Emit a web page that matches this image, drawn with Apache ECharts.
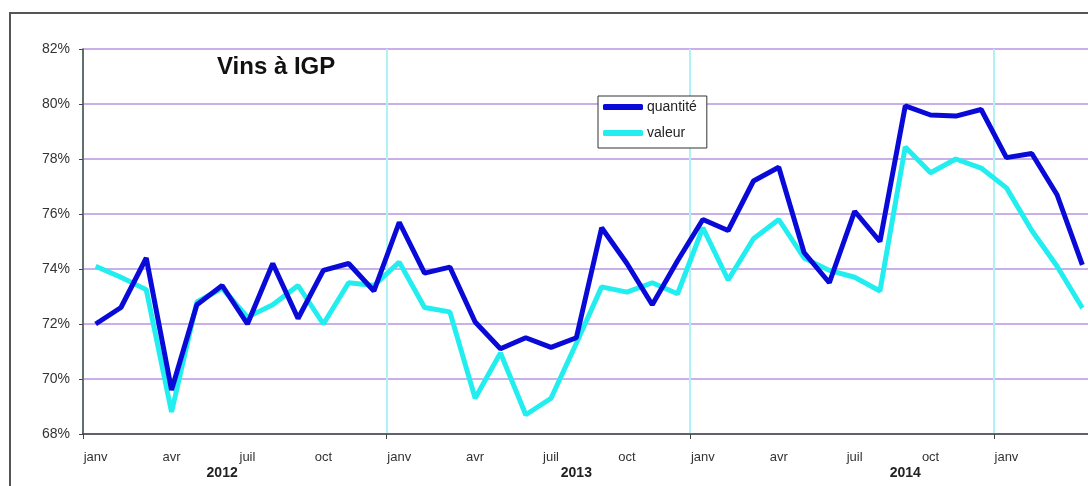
<!DOCTYPE html>
<html>
<head>
<meta charset="utf-8">
<script src="https://cdn.jsdelivr.net/npm/echarts@6/dist/echarts.min.js"></script>
<style>
html,body{margin:0;padding:0;background:#fff;}
#c{width:1088px;height:486px;}
</style>
</head>
<body>
<div id="c"></div>
<script>
// Months Jan 2012 .. Apr 2015
const monthNames = ['janv','févr','mars','avr','mai','juin','juil','août','sept','oct','nov','déc'];
const categories = [];
for (let y = 0; y < 4; y++) for (let m = 0; m < 12; m++) if (categories.length < 40) categories.push(monthNames[m]);

const yearLabels = { 5: '2012', 19: '2013', 32: '2014' };

const quantite = [
  72.0, 72.6, 74.4, 69.6, 72.7, 73.4, 72.0, 74.2, 72.2, 73.95, 74.2, 73.2,
  75.7, 73.85, 74.07, 72.07, 71.1, 71.5, 71.15, 71.5, 75.5, 74.2, 72.7, 74.3,
  75.8, 75.4, 77.2, 77.7, 74.6, 73.5, 76.1, 75.0, 79.93, 79.6, 79.56, 79.8,
  78.05, 78.2, 76.7, 74.15
];
const valeur = [
  74.1, 73.7, 73.25, 68.8, 72.8, 73.3, 72.25, 72.7, 73.4, 72.0, 73.5, 73.4,
  74.25, 72.6, 72.44, 69.3, 70.95, 68.7, 69.3, 71.3, 73.35, 73.16, 73.5, 73.1,
  75.5, 73.6, 75.1, 75.8, 74.4, 73.95, 73.7, 73.2, 78.44, 77.5, 78.0, 77.67,
  76.95, 75.4, 74.1, 72.58
];

const yTicks = { min: 68, max: 82, step: 2 };

const chart = echarts.init(document.getElementById('c'), null, { renderer: 'canvas' });
const FONT = 'Liberation Sans, Arial, sans-serif';
const yearBoundary = (i) => i % 12 === 0;

chart.setOption({
  backgroundColor: '#ffffff',
  animation: false,
  textStyle: { fontFamily: FONT },
  title: {
    text: 'Vins à IGP',
    left: 212, top: 50,
    textStyle: { fontFamily: FONT, fontSize: 24, fontWeight: 'bold', color: '#111' }
  },
  legend: {
    data: ['quantité', 'valeur'],
    orient: 'vertical',
    left: 598, top: 96,
    padding: [4, 10, 8, 5],
    itemGap: 12,
    itemWidth: 40, itemHeight: 6,
    icon: 'roundRect',
    borderColor: '#333', borderWidth: 1,
    backgroundColor: '#fff',
    textStyle: { fontFamily: FONT, fontSize: 14, color: '#222', padding: [0, 0, 0, -1] }
  },
  graphic: [{
    type: 'rect', z: -10, silent: true,
    shape: { x: 10, y: 13, width: 1100, height: 500 },
    style: { fill: 'none', stroke: '#555', lineWidth: 2 }
  }],
  grid: { left: 83, top: 49, bottom: 52, right: -7, containLabel: false, outerBoundsMode: 'none' },
  xAxis: [{
    type: 'category',
    data: categories,
    boundaryGap: true,
    axisLine: { lineStyle: { color: '#444', width: 1.5 } },
    axisTick: { show: true, length: 5, interval: yearBoundary, lineStyle: { color: '#444' } },
    axisLabel: { interval: (i) => i % 3 === 0 && i < 39, margin: 17, fontFamily: FONT, fontSize: 13, color: '#333' },
    splitLine: { show: true, interval: yearBoundary, lineStyle: { color: '#aef2f6', width: 2 } }
  }, {
    type: 'category',
    data: categories,
    boundaryGap: true,
    position: 'bottom',
    axisLine: { show: false },
    axisTick: { show: false },
    splitLine: { show: false },
    axisLabel: {
      interval: 0, margin: 32, fontFamily: FONT, fontSize: 14, fontWeight: 'bold', color: '#222',
      formatter: (v, i) => yearLabels[i] || ''
    }
  }],
  yAxis: {
    type: 'value',
    min: yTicks.min, max: yTicks.max, interval: yTicks.step,
    axisLine: { show: true, lineStyle: { color: '#444', width: 1.5 } },
    axisTick: { show: true, length: 4, lineStyle: { color: '#444' } },
    axisLabel: { margin: 13, fontFamily: FONT, fontSize: 14, color: '#333', formatter: '{value}%' },
    splitLine: { show: true, lineStyle: { color: '#c9b0e8', width: 2 } }
  },
  series: [{
    name: 'valeur', type: 'line', data: valeur, z: 2,
    showSymbol: false, symbol: 'none',
    lineStyle: { color: '#22eef0', width: 5 }, itemStyle: { color: '#22eef0' }
  }, {
    name: 'quantité', type: 'line', data: quantite, z: 3,
    showSymbol: false, symbol: 'none',
    lineStyle: { color: '#0a0ad8', width: 5 }, itemStyle: { color: '#0a0ad8' }
  }]
});
</script>
</body>
</html>
